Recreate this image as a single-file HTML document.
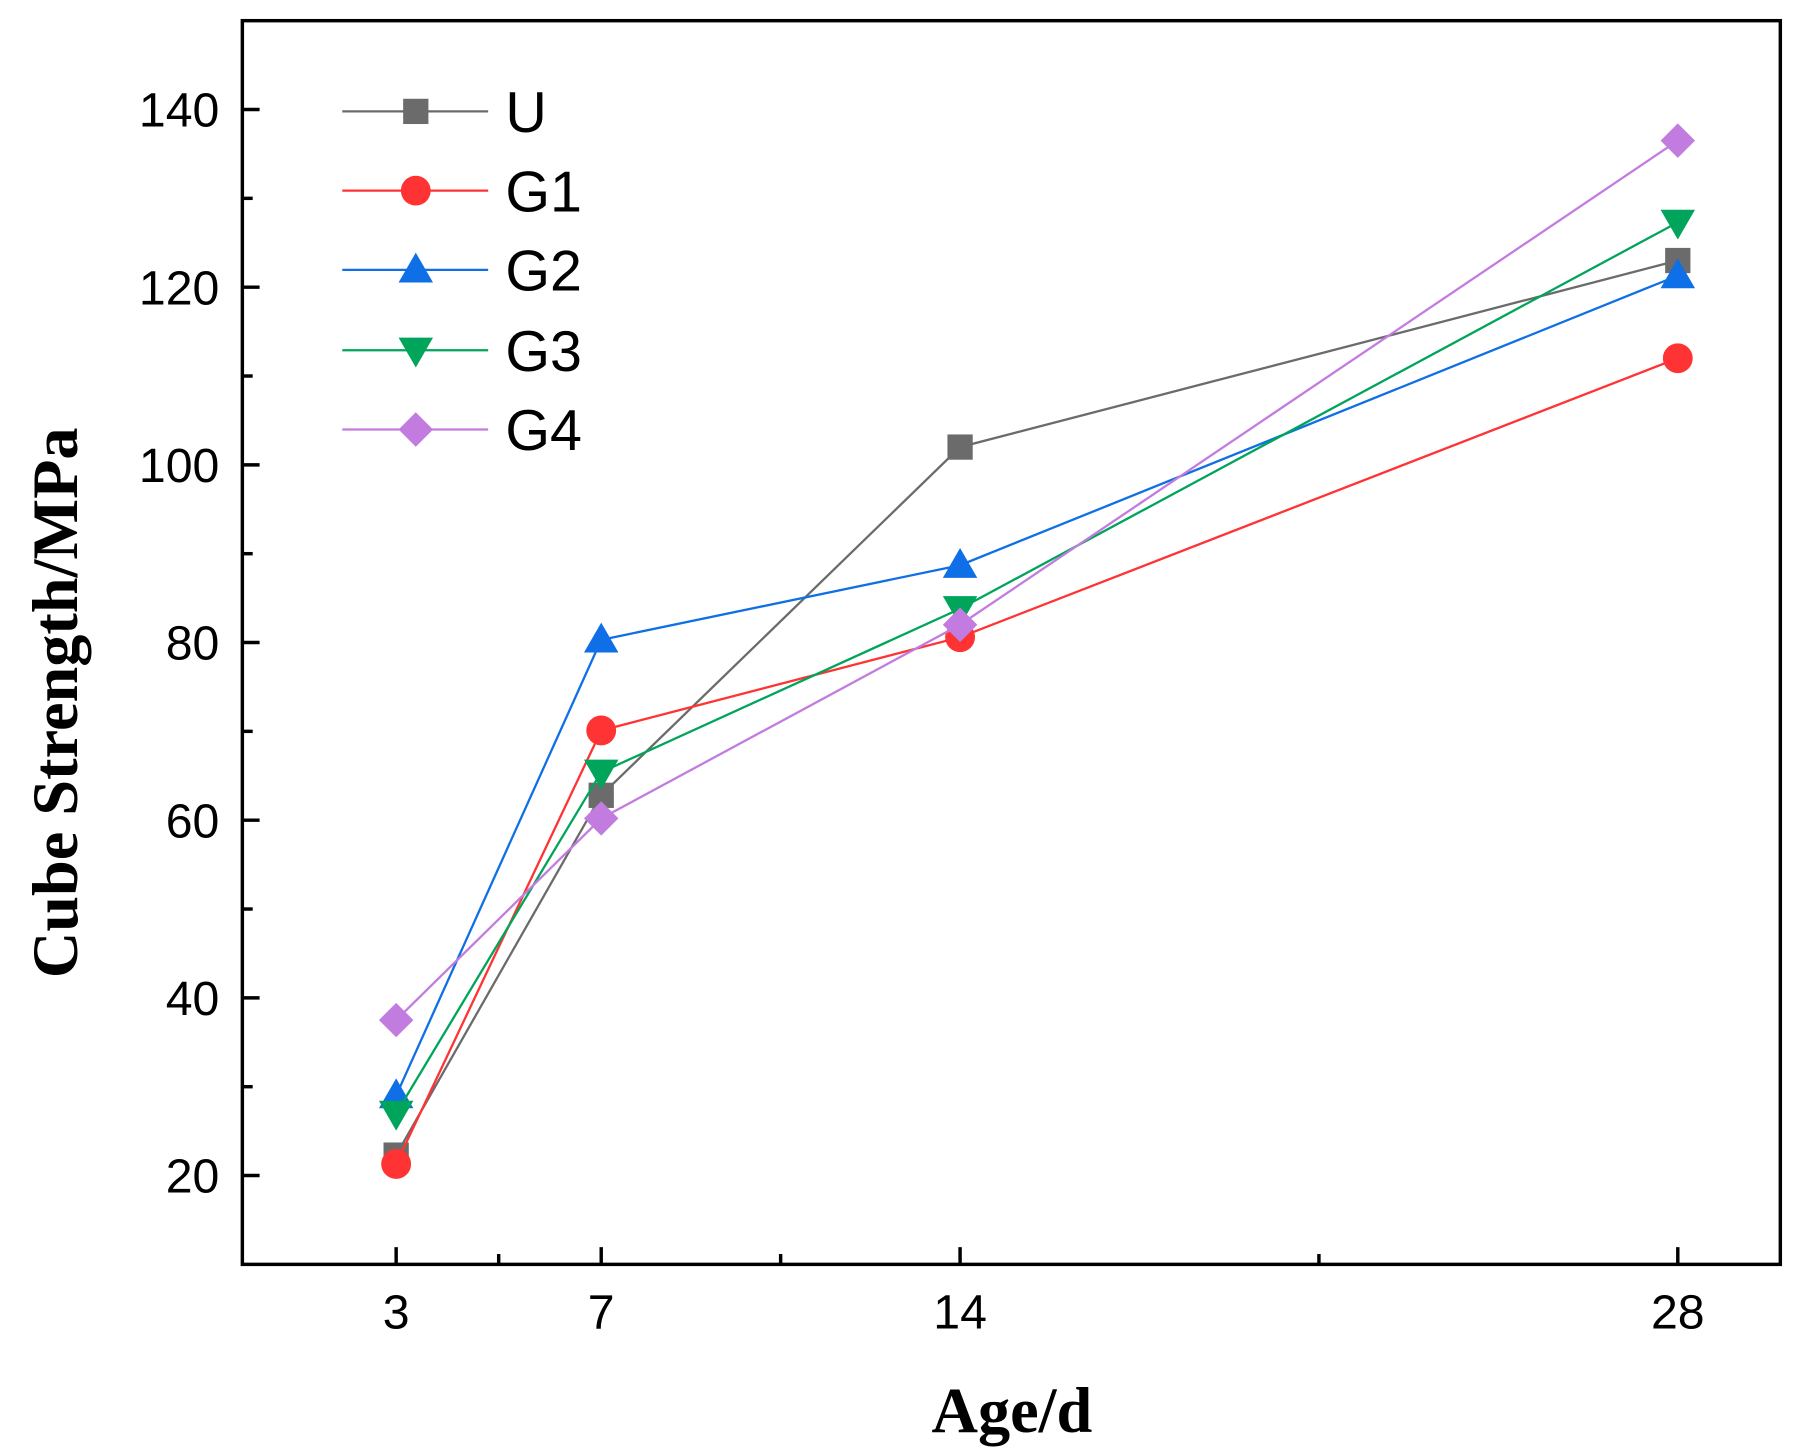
<!DOCTYPE html>
<html><head><meta charset="utf-8"><style>
html,body{margin:0;padding:0;background:#fff;}
svg{display:block;}
</style></head><body>
<svg id="chart" width="1801" height="1455" viewBox="0 0 1568 1267" preserveAspectRatio="none" xmlns="http://www.w3.org/2000/svg"></svg>
<script>
const categories = [3, 7, 14, 28];
const seriesNames = ["U", "G1", "G2", "G3", "G4"];
const valuesU  = [22.3, 62.8, 102, 123];
const valuesG1 = [21.3, 70.1, 80.6, 112];
const valuesG2 = [29, 80.3, 88.7, 121.3];
const valuesG3 = [27, 65.4, 83.8, 127.3];
const valuesG4 = [37.5, 60.2, 82, 136.5];
const yTicks = [20, 40, 60, 80, 100, 120, 140];
const yMinorTicks = [30, 50, 70, 90, 110, 130];
const xMinorTicks = [5, 10.5, 21];

const NS = "http://www.w3.org/2000/svg";
const svg = document.getElementById("chart");
const L = 211, R = 1550, T = 18, B = 1101;
const xMin = 0, xMax = 30, yMin = 10, yMax = 150;
const xs = v => L + (v - xMin) / (xMax - xMin) * (R - L);
const ys = v => B - (v - yMin) / (yMax - yMin) * (B - T);
function mk(tag, attrs, parent) {
  const e = document.createElementNS(NS, tag);
  for (const k in attrs) e.setAttribute(k, attrs[k]);
  (parent || svg).appendChild(e);
  return e;
}
const colors = ["#6b6b6b", "#ff3333", "#0f6fe6", "#00a45a", "#c27ce0"];
const shapes = ["square", "circle", "up", "down", "diamond"];
const allVals = [valuesU, valuesG1, valuesG2, valuesG3, valuesG4];

function marker(shape, cx, cy, color, parent) {
  let e;
  if (shape === "square") e = mk("rect", {x: cx - 11, y: cy - 11, width: 22, height: 22, fill: color}, parent);
  else if (shape === "circle") e = mk("circle", {cx, cy, r: 13, fill: color}, parent);
  else if (shape === "up") e = mk("polygon", {points: `${cx},${cy - 15} ${cx + 15},${cy + 11} ${cx - 15},${cy + 11}`, fill: color}, parent);
  else if (shape === "down") e = mk("polygon", {points: `${cx},${cy + 15} ${cx + 15},${cy - 11} ${cx - 15},${cy - 11}`, fill: color}, parent);
  else e = mk("polygon", {points: `${cx},${cy - 15} ${cx + 15},${cy} ${cx},${cy + 15} ${cx - 15},${cy}`, fill: color}, parent);
  return e;
}

const frame = mk("rect", {x: L, y: T, width: R - L, height: B - T, fill: "none", stroke: "#000", "stroke-width": 3});



yTicks.forEach(v => {
  const y = ys(v);
  mk("line", {x1: L, x2: L + 15, y1: y, y2: y, stroke: "#000", "stroke-width": 3});
  const t = mk("text", {x: L - 20, y: y + 15, "text-anchor": "end", "font-family": "Liberation Sans, sans-serif", "font-size": 42, fill: "#000"});
  t.textContent = v;
  
  
});
yMinorTicks.forEach(v => {
  const y = ys(v);
  mk("line", {x1: L, x2: L + 9, y1: y, y2: y, stroke: "#000", "stroke-width": 3});
});
categories.forEach(v => {
  const x = xs(v);
  mk("line", {x1: x, x2: x, y1: B, y2: B - 15, stroke: "#000", "stroke-width": 3});
  const t = mk("text", {x, y: B + 56, "text-anchor": "middle", "font-family": "Liberation Sans, sans-serif", "font-size": 42, fill: "#000"});
  t.textContent = v;
  
  
});
xMinorTicks.forEach(v => {
  const x = xs(v);
  mk("line", {x1: x, x2: x, y1: B, y2: B - 9, stroke: "#000", "stroke-width": 3});
});

const xt = mk("text", {x: 881, y: 1247, "text-anchor": "middle", "font-family": "Liberation Serif, serif", "font-weight": "bold", "font-size": 56, fill: "#000"});
xt.textContent = "Age/d";


const yt = mk("text", {x: 0, y: 0, "text-anchor": "middle", "font-family": "Liberation Serif, serif", "font-weight": "bold", "font-size": 56, fill: "#000", transform: "translate(67,612) rotate(-90)"});
yt.textContent = "Cube Strength/MPa";



allVals.forEach((vals, i) => {
  const g = mk("g", {});
  
  
  const pts = vals.map((v, j) => xs(categories[j]) + "," + ys(v)).join(" ");
  mk("polyline", {points: pts, fill: "none", stroke: colors[i], "stroke-width": 2}, g);
  vals.forEach((v, j) => {
    const m = marker(shapes[i], xs(categories[j]), ys(v), colors[i], g);
    
    
  });
});

const legendY = [97, 166, 235, 305, 374];
seriesNames.forEach((n, i) => {
  const g = mk("g", {});
  
  
  const y = legendY[i];
  mk("line", {x1: 298, x2: 425, y1: y, y2: y, stroke: colors[i], "stroke-width": 2}, g);
  marker(shapes[i], 362, y, colors[i], g);
  const t = mk("text", {x: 440, y: y + 18, "font-family": "Liberation Sans, sans-serif", "font-size": 50, fill: "#000"}, g);
  t.textContent = n;
});
</script>
</body></html>
